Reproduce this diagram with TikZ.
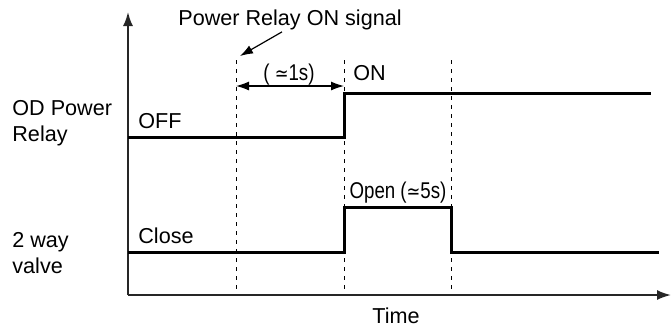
\documentclass[tikz,border=0pt]{standalone}
\usepackage{fontspec}
\setmainfont{Liberation Sans}
\newfontfamily\symfont{DejaVu Sans}
\usetikzlibrary{arrows.meta,positioning}
\newcommand{\approxsym}{{\symfont\fontsize{10}{11}\selectfont ≃}}
\newcommand{\narrow}[1]{\scalebox{0.82}[1]{#1}}

\begin{document}
\begin{tikzpicture}[x=0.5pt,y=-0.5pt,
    axisline/.style={line width=0.9pt,black!85,-{Latex[length=7pt,width=5pt]}},
    sigline/.style={line width=1.5pt,line join=miter},
    markline/.style={line width=0.5pt,dash pattern=on 2.2pt off 2.3pt},
    pointer/.style={line width=0.6pt,-{Latex[length=6.5pt,width=4.5pt]}},
    lbl/.style={inner sep=1pt,font=\fontsize{10.8}{13}\selectfont},
    small/.style={inner sep=1pt,font=\fontsize{11.4}{13}\selectfont}]
  \useasboundingbox (0,0) rectangle (671,329);
  % axes
  \coordinate (O) at (128,295);
  \coordinate (ytop) at (128,12);
  \coordinate (xend) at (671,295);
  \draw[axisline] (O) -- (ytop);
  \draw[axisline] (O) -- (xend);
  % time marks
  \foreach \t/\n in {236/a,344/b,451/c} {
    \coordinate (\n top) at (\t,60);
    \coordinate (\n bot) at (\t,292);
    \draw[markline] (\n top) -- (\n bot);
  }
  % signals
  \draw[sigline] (128,137) -- (344,137) -- (344,93) -- (651,93);
  \draw[sigline] (128,252) -- (344,252) -- (344,207) -- (451,207) -- (451,252) -- (659,252);
  % labels
  \node[lbl,anchor=north west,align=left,inner sep=0pt] (relaylbl) at (12,100) {OD Power\\Relay};
  \node[lbl,anchor=north west,align=left,inner sep=0pt] (valvelbl) at (12,232) {2 way\\valve};
  \node[lbl,anchor=base west] (offlbl) at (136,128) {OFF};
  \node[lbl,anchor=base west] (closelbl) at (136,243) {Close};
  \node[lbl,anchor=base west] (onlbl) at (351,80) {ON};
  \node[small,anchor=base] (openlbl) at (398,198) {\narrow{Open (\approxsym5s)}};
  \node[small,anchor=base] (dtlbl) at (289,80) {\narrow{( \approxsym1s)}};
  \node[lbl,anchor=base] (siglbl) at (290,25) {Power Relay ON signal};
  \node[lbl,anchor=base] (timelbl) at (396,323) {Time};
  % arrows
  \coordinate (sigpt) at (240,56);
  \draw[pointer] ([xshift=-4pt]siglbl.south) -- (sigpt);
  \coordinate (dl) at (236,86);
  \coordinate (dr) at (344,86);
  \draw[pointer,{Latex[length=6.5pt,width=4.5pt]}-{Latex[length=6.5pt,width=4.5pt]}] (dl) -- (dr);
\end{tikzpicture}
\end{document}
